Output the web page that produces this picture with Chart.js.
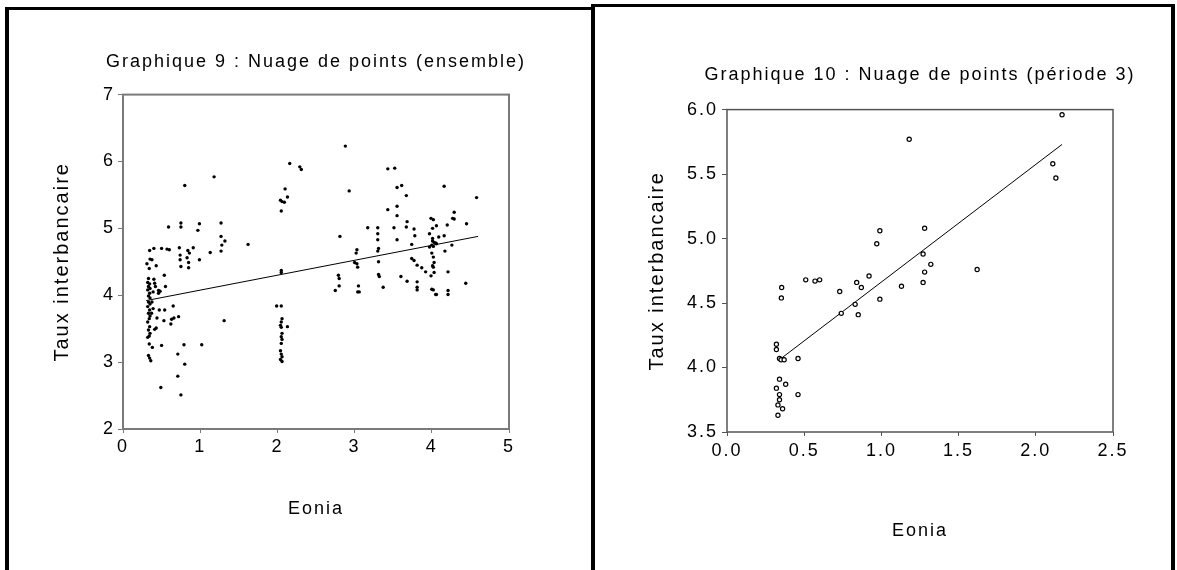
<!DOCTYPE html>
<html lang="fr">
<head>
  <meta charset="UTF-8">
  <title>Nuages de points - Eonia / Taux interbancaire</title>
  <script src="https://cdn.jsdelivr.net/npm/chart.js@4.4.1/dist/chart.umd.min.js"></script>
  <style>
    html, body { margin: 0; padding: 0; background: #fff; overflow: hidden; }
    body { width: 1177px; height: 570px; position: relative; }
    .panel { position: absolute; box-sizing: border-box; height: 620px; border: solid #000; border-width: 3px 4px 0 4px; }
    #panel-left { left: 5px; top: 7px; width: 590px; }
    #panel-right { left: 591px; top: 4px; width: 584px; }
    canvas { position: absolute; }
    #chart-left { left: 10px; top: 12px; }
    #chart-right { left: 596px; top: 9px; }
  </style>
</head>
<body>
  <div class="panel" id="panel-left"></div>
  <div class="panel" id="panel-right"></div>
  <canvas id="chart-left" width="578" height="558"></canvas>
  <canvas id="chart-right" width="573" height="561"></canvas>

  <script>
    // Graphique 9 : ensemble (Eonia, Taux interbancaire)
    const eoniaAll = [
      0.31, 0.345, 0.40, 0.35, 0.375, 0.34, 0.43, 0.33,
      0.32, 0.345, 0.33, 0.35, 0.32, 0.345, 0.33, 0.35,
      0.40, 0.41, 0.42, 0.39, 0.46, 0.46, 0.48, 0.535, 0.55,
      0.33, 0.35, 0.32, 0.345, 0.33, 0.35, 0.34, 0.32, 0.345, 0.33, 0.35, 0.34, 0.32,
      0.375, 0.39, 0.37, 0.47, 0.54, 0.44, 0.53, 0.41, 0.43,
      0.34, 0.38, 0.33, 0.345, 0.36, 0.50, 0.49,
      0.50, 0.57, 0.60, 0.59, 0.65, 0.63, 0.66, 0.72, 0.62,
      0.71, 0.71, 0.75, 0.79, 0.80, 0.80,
      0.73, 0.74, 0.74, 0.75, 0.75, 0.75,
      0.84, 0.86, 0.83, 0.85, 0.85, 0.91, 0.97, 0.99, 0.99, 1.02,
      1.13, 1.18, 1.27, 1.27, 1.28, 1.32, 1.27, 1.31, 1.62,
      2.10, 2.13, 2.04, 2.06, 2.09, 2.05, 2.16, 2.29, 2.31,
      2.05, 2.05, 1.99, 2.05, 2.06, 2.05, 2.04, 2.05, 2.13,
      2.06, 2.05, 2.06, 2.05, 2.04, 2.05, 2.06, 2.04, 2.06,
      2.88, 2.93, 2.81, 2.79, 2.80, 2.80, 2.75,
      3.03, 3.02, 3.00, 3.03, 3.04, 3.05, 3.04, 3.06, 3.17,
      3.30, 3.30, 3.30, 3.31, 3.30, 3.31, 3.31, 3.32, 3.37,
      3.43, 3.52, 3.55, 3.61, 3.67, 3.43, 3.55, 3.55, 3.51, 3.55,
      3.68, 3.67, 3.77, 3.78, 3.74, 3.74, 3.77, 3.81, 3.87, 3.92,
      3.60, 3.68, 3.81, 3.81, 3.81,
      3.99, 4.02, 4.06, 4.01, 3.97, 4.01, 4.09, 4.01, 4.03, 4.05, 4.06,
      4.00, 3.97, 4.02, 4.00, 4.02, 4.03, 4.01, 4.02, 3.99, 4.03,
      4.00, 4.02, 4.05, 4.06,
      4.16, 4.29, 4.27, 4.29, 4.20, 4.16, 4.26, 4.17, 4.21, 4.21, 4.21,
      4.45, 4.58, 4.44
    ];
    const tauxAll = [
      4.47, 4.67, 4.70, 4.54, 4.53, 4.40, 4.44, 4.25,
      4.19, 4.17, 4.13, 4.10, 4.08, 4.03, 3.99, 3.96,
      4.24, 4.18, 4.13, 4.05, 4.03, 4.07, 4.06, 4.30, 4.13,
      3.90, 3.87, 3.83, 3.78, 3.73, 3.69, 3.65, 3.60, 3.53, 3.48, 3.43, 3.39, 3.37,
      3.90, 3.80, 3.73, 3.78, 3.78, 3.66, 3.62, 3.49, 3.51,
      3.27, 3.22, 3.10, 3.06, 3.02, 3.25, 2.62,
      4.70, 4.69, 4.68, 5.02, 3.84, 3.64, 3.66, 3.68, 3.57,
      3.12, 2.79, 2.51, 3.26, 2.97, 5.64,
      4.71, 4.60, 4.53, 4.43, 5.08, 5.02,
      4.67, 4.63, 4.56, 4.49, 4.41, 4.71, 4.97, 5.07, 4.53, 3.26,
      4.64, 5.77, 5.08, 4.88, 4.75, 4.81, 4.66, 3.62, 4.76,
      5.59, 5.47, 5.42, 5.40, 5.39, 5.26, 5.97, 5.92, 5.88,
      4.37, 4.34, 3.84, 3.84, 3.65, 3.60, 3.55, 3.52, 3.53,
      3.43, 3.38, 3.34, 3.28, 3.17, 3.12, 3.08, 3.04, 3.01,
      6.23, 5.56, 4.88, 4.30, 4.25, 4.14, 4.07,
      4.68, 4.63, 4.49, 4.47, 4.42, 4.14, 4.05, 4.05, 5.01,
      5.01, 4.92, 4.83, 4.70, 4.66, 4.50, 4.31, 4.28, 4.12,
      5.89, 5.90, 5.61, 5.64, 5.49, 5.28, 5.33, 5.19, 5.01, 4.83,
      5.10, 5.02, 4.99, 4.89, 4.76, 4.55, 4.52, 4.45, 4.41, 4.35,
      4.28, 4.21, 4.20, 4.12, 4.08,
      5.15, 5.13, 5.04, 5.00, 4.92, 4.85, 4.87, 4.81, 4.79, 4.78, 4.77,
      4.75, 4.72, 4.73, 4.63, 4.57, 4.49, 4.44, 4.42, 4.29, 4.34,
      4.09, 4.08, 4.01, 4.01,
      5.63, 5.24, 5.15, 5.14, 5.05, 4.89, 4.75, 4.66, 4.35, 4.07, 4.01,
      5.07, 5.46, 4.18
    ];
    const fitAllX = [0.30, 4.60];
    const fitAllY = [3.92, 4.88];

    // Graphique 10 : période 3
    const eoniaP3 = [
      0.32, 0.32, 0.354, 0.352, 0.51, 0.57, 0.60, 0.73, 0.74, 0.84, 0.87, 0.83, 0.85,
      0.92, 0.97, 0.99, 0.99, 1.13, 1.18, 1.28, 1.27, 1.32, 1.28, 1.27,
      0.34, 0.35, 0.37, 0.46, 0.34, 0.38, 0.32, 0.34, 0.46, 0.34, 0.33, 0.36, 0.33,
      2.17, 2.11, 2.13, 1.62
    ];
    const tauxP3 = [
      4.18, 4.14, 4.62, 4.54, 4.68, 4.67, 4.68, 4.59, 4.42, 4.66, 4.62, 4.49, 4.41,
      4.71, 4.96, 5.06, 4.53, 4.63, 5.77, 5.08, 4.88, 4.80, 4.74, 4.66,
      4.07, 4.06, 4.06, 4.07, 3.91, 3.87, 3.84, 3.79, 3.79, 3.75, 3.71, 3.68, 3.63,
      5.96, 5.58, 5.47, 4.76
    ];
    const fitP3X = [0.35, 2.17];
    const fitP3Y = [4.07, 5.73];

    const xTicksAll = [0, 1, 2, 3, 4, 5];
    const yTicksAll = [2, 3, 4, 5, 6, 7];
    const xTicksP3 = [0.0, 0.5, 1.0, 1.5, 2.0, 2.5];
    const yTicksP3 = [3.5, 4.0, 4.5, 5.0, 5.5, 6.0];

    const FONT = "Arial, 'Liberation Sans', sans-serif";
    const FS = 18;
    const FS_Y = 20; // titre vertical
    Chart.defaults.font.family = FONT;
    Chart.defaults.font.size = FS;
    Chart.defaults.color = '#000';

    const toPoints = (xs, ys) => xs.map((x, i) => ({ x: x, y: ys[i] }));

    // espacement des lettres, titre non compressé, cadre du graphique
    const spacingPlugin = {
      id: 'spacing',
      beforeUpdate(chart) { chart.ctx.letterSpacing = '2px'; },
      beforeDraw(chart) { chart.ctx.letterSpacing = '2px'; },
      afterLayout(chart) {
        const t = chart.titleBlock;
        if (t) { t.left -= 80; t.right += 80; t.width += 160; }
      }
    };
    const framePlugin = {
      id: 'frame',
      afterDatasetsDraw(chart, args, opts) {
        const { ctx, chartArea: a } = chart;
        ctx.save();
        ctx.strokeStyle = opts.color;
        ctx.lineWidth = opts.width;
        ctx.strokeRect(a.left, a.top, a.right - a.left, a.bottom - a.top);
        ctx.restore();
      }
    };

    function makeChart(id, cfg) {
      const scaleTicks = fmt => ({
        autoSkip: false,
        maxRotation: 0,
        padding: cfg.tickPad,
        callback: v => fmt(v)
      });
      return new Chart(document.getElementById(id), {
        data: {
          datasets: [
            {
              type: 'scatter',
              data: toPoints(cfg.xs, cfg.ys),
              pointRadius: cfg.radius,
              pointBackgroundColor: cfg.fill,
              pointBorderColor: '#000',
              pointBorderWidth: cfg.pointBorder,
              pointHoverRadius: cfg.radius
            },
            {
              type: 'line',
              data: toPoints(cfg.fitX, cfg.fitY),
              borderColor: '#000',
              borderWidth: 1,
              pointRadius: 0,
              fill: false
            }
          ]
        },
        options: {
          responsive: false,
          devicePixelRatio: 1,
          animation: false,
          layout: { padding: cfg.padding },
          plugins: {
            legend: { display: false },
            tooltip: { enabled: false },
            title: {
              display: true,
              text: cfg.title,
              fullSize: false,
              font: { size: FS, weight: 'normal', lineHeight: 1.2 },
              padding: cfg.titlePad,
              color: '#000'
            },
            frame: { color: cfg.axisColor, width: cfg.axisWidth }
          },
          scales: {
            x: {
              type: 'linear',
              min: cfg.xTicks[0],
              max: cfg.xTicks[cfg.xTicks.length - 1],
              afterBuildTicks: s => { s.ticks = cfg.xTicks.map(v => ({ value: v })); },
              ticks: scaleTicks(cfg.fmt),
              grid: { drawOnChartArea: false, drawTicks: true, tickLength: 4, tickColor: cfg.axisColor, tickWidth: 1 },
              border: { display: false },
              title: { display: true, text: 'Eonia', font: { size: FS }, padding: { top: 0, bottom: cfg.xTitlePad } },
              afterFit: s => { s.height = cfg.xHeight; }
            },
            y: {
              type: 'linear',
              min: cfg.yTicks[0],
              max: cfg.yTicks[cfg.yTicks.length - 1],
              afterBuildTicks: s => { s.ticks = cfg.yTicks.map(v => ({ value: v })); },
              ticks: scaleTicks(cfg.fmt),
              grid: { drawOnChartArea: false, drawTicks: true, tickLength: 5, tickColor: cfg.axisColor, tickWidth: 1 },
              border: { display: false },
              title: { display: true, text: 'Taux interbancaire', font: { size: FS_Y }, padding: { top: cfg.yTitlePad, bottom: 0 } },
              afterFit: s => { s.width = cfg.yWidth; }
            }
          }
        },
        plugins: [spacingPlugin, framePlugin]
      });
    }

    makeChart('chart-left', {
      title: 'Graphique 9 : Nuage de points (ensemble)',
      xs: eoniaAll, ys: tauxAll, fitX: fitAllX, fitY: fitAllY,
      xTicks: xTicksAll, yTicks: yTicksAll, fmt: v => String(v),
      radius: 1.7, fill: '#000', pointBorder: 0,
      axisColor: '#7a7a7a', axisWidth: 2,
      padding: { left: 0, right: 79, top: 0, bottom: 41 },
      titlePad: { top: 39, bottom: 22 },
      yWidth: 113, yTitlePad: 40,
      xHeight: 100, xTitlePad: 9,
      tickPad: 3
    });

    makeChart('chart-right', {
      title: 'Graphique 10 : Nuage de points (période 3)',
      xs: eoniaP3, ys: tauxP3, fitX: fitP3X, fitY: fitP3Y,
      xTicks: xTicksP3, yTicks: yTicksP3, fmt: v => v.toFixed(1),
      radius: 2.1, fill: '#fff', pointBorder: 1.2,
      axisColor: '#555', axisWidth: 1.5,
      padding: { left: 0, right: 56, top: 0, bottom: 28 },
      titlePad: { top: 55, bottom: 24 },
      yWidth: 131, yTitlePad: 49,
      xHeight: 110, xTitlePad: 0,
      tickPad: 4
    });
  </script>
</body>
</html>
